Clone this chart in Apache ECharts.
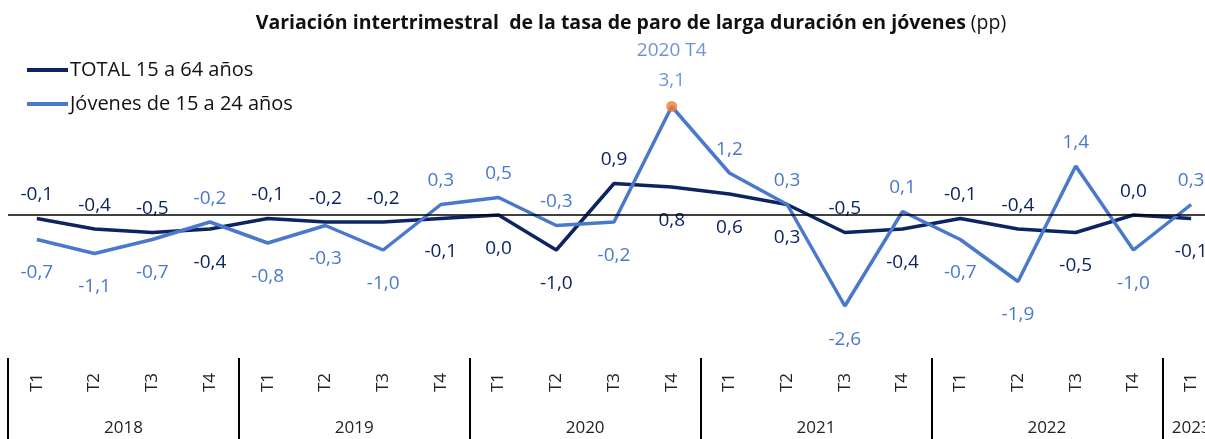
<!DOCTYPE html>
<html>
<head>
<meta charset="utf-8">
<script src="https://cdn.jsdelivr.net/npm/echarts@6/dist/echarts.min.js"></script>
<style>
  html, body { margin: 0; padding: 0; background: #fff; }
  #chart { width: 1205px; height: 439px; }
</style>
</head>
<body>
<div id="chart"></div>
<script>
// Quarter labels and years
const quarters = ['T1','T2','T3','T4','T1','T2','T3','T4','T1','T2','T3','T4',
                  'T1','T2','T3','T4','T1','T2','T3','T4','T1'];
const years = ['2018', '2019', '2020', '2021', '2022', '2023'];
const yearQuarterCounts = [4, 4, 4, 4, 4, 1];

// Quarter-on-quarter change in long-term unemployment rate (pp)
const totalValues = [-0.1, -0.4, -0.5, -0.4, -0.1, -0.2, -0.2, -0.1, 0.0, -1.0, 0.9, 0.8,
                     0.6, 0.3, -0.5, -0.4, -0.1, -0.4, -0.5, 0.0, -0.1];
const youthValues = [-0.7, -1.1, -0.7, -0.2, -0.8, -0.3, -1.0, 0.3, 0.5, -0.3, -0.2, 3.1,
                     1.2, 0.3, -2.6, 0.1, -0.7, -1.9, 1.4, -1.0, 0.3];

// Which side of the line each value label sits on (u = above, d = below)
const totalLabelSide = ['u','u','u','d','u','u','u','d','d','d','u','d',
                        'd','d','u','d','u','u','d','u','d'];
const youthLabelSide = ['d','d','d','u','d','d','d','u','u','u','d','u',
                        'u','u','d','u','d','d','u','d','u'];

const highlightIndex = 11; // peak quarter, 2020 T4

const NAVY = '#0c2461';
const BLUE = '#4a78cc';
const FONT = '"Open Sans", sans-serif';

const fmt = v => v.toFixed(1).replace('.', ',');

function yearOf(i) {
  let acc = 0;
  for (let k = 0; k < years.length; k++) {
    acc += yearQuarterCounts[k];
    if (i < acc) return years[k];
  }
  return years[years.length - 1];
}

function labelled(values, sides, color, hideIdx) {
  return values.map((v, i) => ({
    value: v,
    label: {
      show: i !== hideIdx,
      position: sides[i] === 'u' ? 'top' : 'bottom',
      distance: sides[i] === 'u' ? 14 : 24,
      color: color,
      fontSize: 19,
      fontFamily: FONT,
      formatter: p => fmt(p.value)
    }
  }));
}

// Year group boundaries and centres on a 0..N quarter scale
const boundaries = [];
const yearCentres = [];
{
  let acc = 0;
  yearQuarterCounts.forEach(c => {
    boundaries.push(acc);
    yearCentres.push(acc + c / 2);
    acc += c;
  });
}

const chart = echarts.init(document.getElementById('chart'), null, { renderer: 'canvas' });

chart.setOption({
  animation: false,
  backgroundColor: '#fff',
  title: {
    text: '{b|Variación intertrimestral  de la tasa de paro de larga duración en jóvenes} {n|(pp)}',
    left: 626,
    textAlign: 'center',
    top: 8,
    textStyle: {
      rich: {
        b: { fontSize: 19.5, fontWeight: 'bold', color: '#111', fontFamily: FONT },
        n: { fontSize: 19.5, fontWeight: 'normal', color: '#111', fontFamily: FONT }
      }
    }
  },
  legend: {
    orient: 'vertical',
    left: 22,
    top: 55,
    itemGap: 14,
    itemWidth: 41,
    itemHeight: 4,
    icon: 'rect',
    textStyle: { fontSize: 20, color: '#111', fontFamily: FONT, padding: [0, 0, 0, -3] },
    data: ['TOTAL 15 a 64 años', 'Jóvenes de 15 a 24 años']
  },
  grid: { left: 8, width: 1212, top: 75, height: 280, outerBoundsMode: 'none', containLabel: false },
  xAxis: [
    {
      type: 'category',
      data: quarters,
      boundaryGap: true,
      axisLine: { show: false },
      axisTick: { show: false },
      axisLabel: {
        rotate: 90,
        margin: 18,
        fontSize: 17,
        color: '#222',
        fontFamily: FONT
      }
    },
    {
      type: 'value',
      min: 0,
      max: quarters.length,
      position: 'bottom',
      offset: 84,
      splitLine: { show: false },
      axisLine: { show: false },
      axisTick: {
        show: true,
        inside: true,
        length: 81,
        customValues: boundaries,
        lineStyle: { color: '#000', width: 2 }
      },
      axisLabel: {
        inside: true,
        margin: 2,
        fontSize: 17,
        color: '#222',
        fontFamily: FONT,
        hideOverlap: false,
        customValues: yearCentres,
        formatter: v => yearOf(Math.floor(v))
      }
    }
  ],
  yAxis: {
    type: 'value',
    min: -4,
    max: 4,
    show: false,
    splitLine: { show: false }
  },
  series: [
    {
      name: 'TOTAL 15 a 64 años',
      type: 'line',
      symbol: 'circle',
      symbolSize: 0.01,
      showSymbol: true,
      color: NAVY,
      lineStyle: { width: 3.5, color: NAVY },
      data: labelled(totalValues, totalLabelSide, NAVY, -1),
      markLine: {
        silent: true,
        symbol: 'none',
        label: { show: false },
        lineStyle: { color: '#000', width: 1.5, type: 'solid' },
        data: [{ yAxis: 0 }]
      },
      z: 3
    },
    {
      name: 'Jóvenes de 15 a 24 años',
      type: 'line',
      symbol: 'circle',
      symbolSize: 0.01,
      showSymbol: true,
      color: BLUE,
      lineStyle: { width: 3.5, color: BLUE },
      data: labelled(youthValues, youthLabelSide, BLUE, highlightIndex),
      z: 4
    },
    {
      name: 'peak',
      type: 'scatter',
      symbol: 'circle',
      symbolSize: 11,
      itemStyle: { color: '#ed7d31' },
      z: 5,
      data: [[highlightIndex, youthValues[highlightIndex]]],
      label: {
        show: true,
        position: 'top',
        distance: 8,
        color: BLUE,
        fontFamily: FONT,
        formatter: p => '{c|' + yearOf(highlightIndex) + ' ' + quarters[highlightIndex] + '}\n{v|' + fmt(p.value[1]) + '}',
        rich: {
          c: { fontSize: 19, color: BLUE, fontFamily: FONT, lineHeight: 36 },
          v: { fontSize: 19, color: BLUE, fontFamily: FONT, lineHeight: 24 }
        }
      }
    }
  ]
});
</script>
</body>
</html>
